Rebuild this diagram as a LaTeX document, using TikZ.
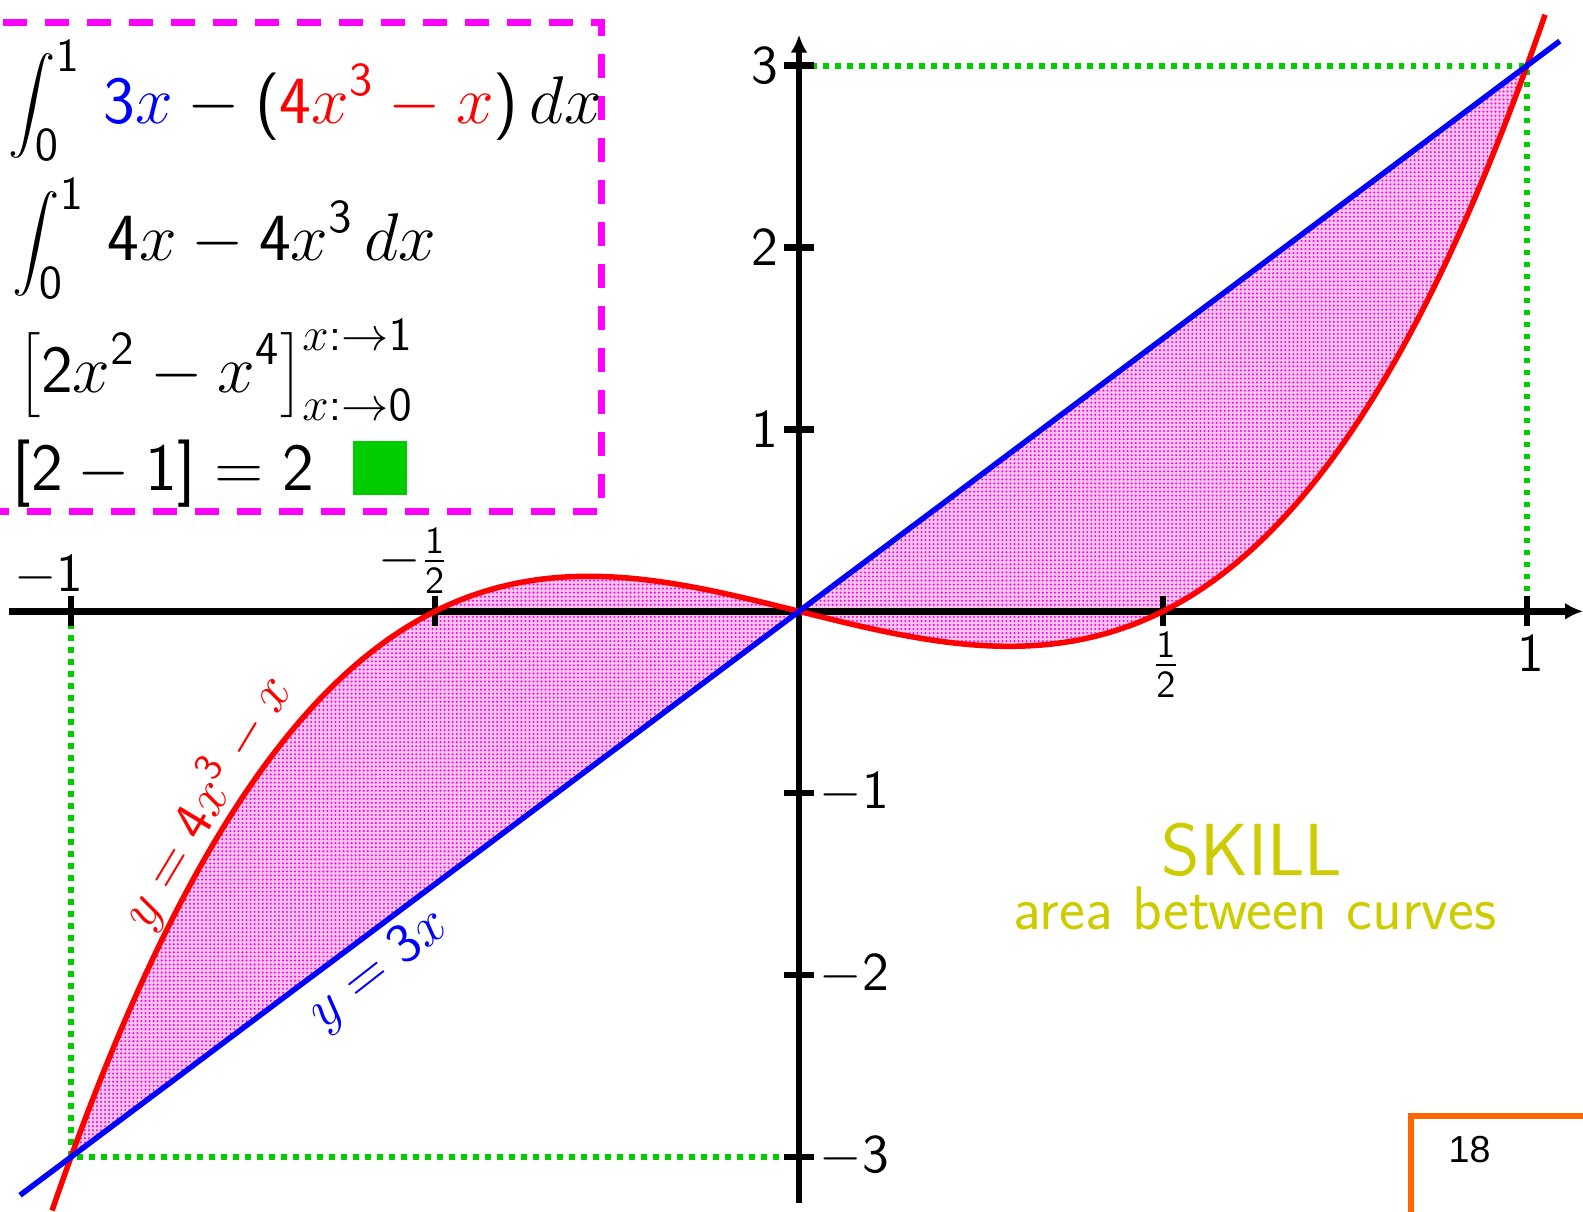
\documentclass[tikz,border=0pt]{standalone}
\usepackage{fix-cm}
\usepackage[no-math]{fontspec}
\SetSymbolFont{operators}{normal}{OT1}{cmss}{m}{n}
\DeclareFontShape{OMX}{cmex}{m}{n}{<-> s*[0.7] cmex10}{}
\newfontfamily\arialfont{Liberation Sans}
\usetikzlibrary{arrows.meta,patterns.meta}
\definecolor{mag}{RGB}{255,0,255}
\definecolor{grn}{RGB}{0,204,0}
\definecolor{skill}{RGB}{204,204,0}
\definecolor{org}{RGB}{255,102,0}
\tikzdeclarepattern{
  name=fdots,
  type=uncolored,
  bottom left={(-0.6pt,-0.6pt)},
  top right={(0.6pt,0.6pt)},
  tile size={(1.15pt,1.15pt)},
  code={\fill (0pt,0pt) circle (0.33pt);}
}
\begin{document}
\begin{tikzpicture}[
  axis/.style={line width=0.065cm, black},
  guide/.style={grn, line width=0.06cm, dash pattern=on 0.055cm off 0.065cm},
  redcurve/.style={red, line width=0.055cm},
  blueline/.style={blue, line width=0.055cm},
  lbl/.style={font=\fontsize{15.5}{18}\selectfont, inner sep=0pt},
  fml/.style={font=\fontsize{19.2}{23}\selectfont, inner sep=0pt, anchor=base west},
  tip/.style={-{Latex[length=0.18cm,width=0.17cm]}},
]
\useasboundingbox (0,0) rectangle (15.83,12.11);
\clip (0,0) rectangle (15.83,12.11);
\begin{scope}[shift={(7.99,5.997)}, x=7.28cm, y=1.819cm]
  % shaded area
  \path[fill=magenta!22, postaction={pattern={fdots}, pattern color=mag}]
    (-1,-3) -- (1,3) -- plot[domain=1:-1, samples=201] (\x,{4*\x*\x*\x-\x}) -- cycle;
  % guides
  \draw[guide] (-1,0) -- (-1,-3) -- (0,-3);
  \draw[guide] (0,3) -- (1,3) -- (1,0);
  % axes
  \draw[axis, tip] (-1.085,0) -- (1.077,0);
  \draw[axis, tip] (0,-3.25) -- (0,3.17);
  \foreach \t in {-1,-0.5,0.5,1} \draw[axis] (\t,0) ++(0,-0.15cm) -- ++(0,0.3cm);
  \foreach \t in {-3,-2,-1,1,2,3} \draw[axis] (0,\t) ++(-0.15cm,0) -- ++(0.3cm,0);
  % curves
  \draw[redcurve] plot[domain=-1.026:1.026, samples=241] (\x,{4*\x*\x*\x-\x});
  \draw[blueline] (-1.07,-3.21) -- (1.045,3.135);
  % tick labels
  \node[lbl, anchor=base east] (xm1) at ([xshift=0.13cm,yshift=0.2cm]-1,0) {$-1$};
  \node[lbl, anchor=south east] (xmh) at ([xshift=0.14cm,yshift=0.17cm]-0.5,0) {$-\frac{1}{2}$};
  \node[lbl, anchor=north] (xph) at ([xshift=0.03cm,yshift=-0.2cm]0.5,0) {$\frac{1}{2}$};
  \node[lbl, anchor=north] (xp1) at ([xshift=0.035cm,yshift=-0.24cm]1,0) {$1$};
  \node[lbl, anchor=east] (y3) at ([xshift=-0.2cm]0,3) {$3$};
  \node[lbl, anchor=east] (y2) at ([xshift=-0.2cm]0,2) {$2$};
  \node[lbl, anchor=east] (y1) at ([xshift=-0.2cm]0,1) {$1$};
  \node[lbl, anchor=west] (ym1) at ([xshift=0.2cm]0,-1) {$-1$};
  \node[lbl, anchor=west] (ym2) at ([xshift=0.2cm]0,-2) {$-2$};
  \node[lbl, anchor=west] (ym3) at ([xshift=0.2cm]0,-3) {$-3$};
\end{scope}
% curve labels
\node[red, font=\fontsize{16}{19}\selectfont, rotate=59, inner sep=1pt] (lred) at (2.06,4.10) {$y=4x^3-x$};
\node[blue, font=\fontsize{16}{19}\selectfont, rotate=38, inner sep=1pt] (lblue) at (3.79,2.41) {$y=3x$};
% formula box
\draw[mag, line width=0.07cm, dash pattern=on 0.24cm off 0.18cm] (-0.3,11.888) rectangle (6.017,7.0);
\node[fml] (f1) at (0.08,10.88) {$\displaystyle\int_0^1\,\textcolor{blue}{3x}-(\textcolor{red}{4x^3-x})\,dx$};
\node[fml] (f2) at (0.12,9.505) {$\displaystyle\int_0^1\,4x-4x^3\,dx$};
\node[fml] (f3) at (0.18,8.19) {$\displaystyle\left[2x^2-x^4\right]_{x:\to0}^{x:\to1}$};
\node[fml] (f4) at (0.12,7.21) {$[2-1]=2$};
\node[fill=grn, minimum size=0.54cm, inner sep=0pt] (qed) at (3.80,7.43) {};
% skill
\node[skill, font=\sffamily\fontsize{21}{25}\selectfont, anchor=base, inner sep=0pt] (sk) at (12.52,3.36) {SKILL};
\node[skill, font=\sffamily\fontsize{17.5}{21}\selectfont, anchor=base, inner sep=0pt] (sk2) at (12.55,2.82) {area between curves};
% page number box
\draw[org, line width=0.06cm] (14.11,-0.5) -- (14.11,0.95) -- (16.5,0.95);
\node[font=\arialfont\fontsize{10.7}{13}\selectfont, anchor=base west, inner sep=0pt] (pg) at (14.48,0.49) {18};
\end{tikzpicture}
\end{document}
